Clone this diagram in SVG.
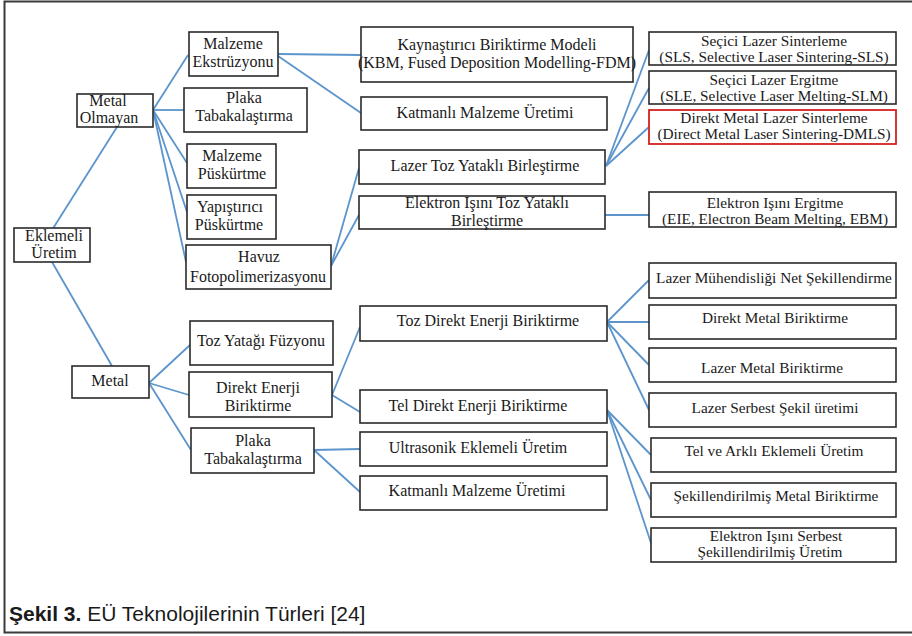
<svg xmlns="http://www.w3.org/2000/svg" width="912" height="636" viewBox="0 0 912 636">
<style>
.b{fill:#fff;stroke:#2a2a2a;stroke-width:1.6}
.r{fill:#fff;stroke:#d42020;stroke-width:1.8}
.t{font-family:'Liberation Serif','DejaVu Serif',serif;font-size:16px;fill:#1a1a1a;text-anchor:middle}
.s{font-size:15.3px}
.c{stroke:#5b95cc;stroke-width:1.8;fill:none}
.cap{font-family:'Liberation Sans',Arial,sans-serif;font-size:21px;fill:#1a1a1a}
</style>
<rect x="0" y="0" width="912" height="636" fill="#fff"/>
<path d="M914 1.5 H4.5 V632.5 H914" fill="none" stroke="#3a3a3a" stroke-width="2"/>
<g id="connectors">
<line class="c" x1="52" y1="230" x2="117" y2="127"/>
<line class="c" x1="52" y1="262" x2="112" y2="366"/>
<line class="c" x1="153" y1="110" x2="188" y2="55"/>
<line class="c" x1="153" y1="110" x2="184" y2="110"/>
<line class="c" x1="153" y1="110" x2="187" y2="163"/>
<line class="c" x1="153" y1="110" x2="187" y2="212"/>
<line class="c" x1="153" y1="110" x2="186" y2="262"/>
<line class="c" x1="278" y1="54" x2="361" y2="55"/>
<line class="c" x1="278" y1="56" x2="361" y2="113"/>
<line class="c" x1="331" y1="266" x2="359" y2="168"/>
<line class="c" x1="331" y1="266" x2="359" y2="215"/>
<line class="c" x1="606" y1="166" x2="649" y2="50"/>
<line class="c" x1="606" y1="166" x2="649" y2="88"/>
<line class="c" x1="606" y1="166" x2="649" y2="127"/>
<line class="c" x1="605" y1="215" x2="649" y2="215"/>
<line class="c" x1="149" y1="383" x2="190" y2="345"/>
<line class="c" x1="149" y1="383" x2="189" y2="395"/>
<line class="c" x1="149" y1="383" x2="191" y2="450"/>
<line class="c" x1="332" y1="395" x2="360" y2="327"/>
<line class="c" x1="332" y1="395" x2="360" y2="412"/>
<line class="c" x1="314" y1="450" x2="360" y2="449"/>
<line class="c" x1="314" y1="450" x2="360" y2="492"/>
<line class="c" x1="607" y1="322" x2="649" y2="280"/>
<line class="c" x1="607" y1="322" x2="649" y2="322"/>
<line class="c" x1="607" y1="322" x2="649" y2="365"/>
<line class="c" x1="607" y1="322" x2="649" y2="410"/>
<line class="c" x1="607" y1="410" x2="651" y2="455"/>
<line class="c" x1="607" y1="410" x2="651" y2="500"/>
<line class="c" x1="607" y1="410" x2="651" y2="543"/>
</g>
<g id="eklemeli"><rect class="b" x="14" y="228" width="76" height="34"/><text class="t" x="54" y="241">Eklemeli</text><text class="t" x="54" y="258">Üretim</text></g>
<g id="metal-olmayan"><rect class="b" x="77" y="94" width="76" height="33"/><text class="t" x="108" y="106">Metal</text><text class="t" x="109" y="123">Olmayan</text></g>
<g id="malzeme-ekstruzyonu"><rect class="b" x="189" y="32" width="89" height="44"/><text class="t" x="233" y="49">Malzeme</text><text class="t" x="233" y="67">Ekstrüzyonu</text></g>
<g id="plaka-1"><rect class="b" x="184" y="88" width="123" height="44"/><text class="t" x="244" y="103">Plaka</text><text class="t" x="244" y="121">Tabakalaştırma</text></g>
<g id="malzeme-puskurtme"><rect class="b" x="187" y="144" width="89" height="44"/><text class="t" x="232" y="161">Malzeme</text><text class="t" x="232" y="179">Püskürtme</text></g>
<g id="yapistirici"><rect class="b" x="187" y="195" width="89" height="44"/><text class="t" x="230" y="212">Yapıştırıcı</text><text class="t" x="229" y="230">Püskürtme</text></g>
<g id="havuz"><rect class="b" x="186" y="245" width="145" height="44"/><text class="t" x="259" y="262">Havuz</text><text class="t" x="258" y="282">Fotopolimerizasyonu</text></g>
<g id="kbm"><rect class="b" x="361" y="27" width="272" height="55"/><text class="t" x="497" y="50">Kaynaştırıcı Biriktirme Modeli</text><text class="t" x="497" y="68">(KBM, Fused Deposition Modelling-FDM)</text></g>
<g id="katmanli-1"><rect class="b" x="361" y="97" width="246" height="33"/><text class="t" x="485" y="118">Katmanlı Malzeme Üretimi</text></g>
<g id="lazer-toz"><rect class="b" x="359" y="150" width="246" height="34"/><text class="t" x="485" y="171">Lazer Toz Yataklı Birleştirme</text></g>
<g id="elektron-toz"><rect class="b" x="359" y="196" width="246" height="33"/><text class="t" x="487" y="208">Elektron Işını Toz Yataklı</text><text class="t" x="487" y="226">Birleştirme</text></g>
<g id="sls"><rect class="b" x="649" y="32" width="247" height="33"/><text class="t s" x="774" y="46">Seçici Lazer Sinterleme</text><text class="t s" x="774" y="62">(SLS, Selective Laser Sintering-SLS)</text></g>
<g id="sle"><rect class="b" x="649" y="71" width="247" height="33"/><text class="t s" x="774" y="85">Seçici Lazer Ergitme</text><text class="t s" x="774" y="101">(SLE, Selective Laser Melting-SLM)</text></g>
<g id="dmls"><rect class="r" x="649" y="110" width="247" height="34"/><text class="t s" x="774" y="123">Direkt Metal Lazer Sinterleme</text><text class="t s" x="774" y="139">(Direct Metal Laser Sintering-DMLS)</text></g>
<g id="ebm"><rect class="b" x="649" y="192" width="247" height="35"/><text class="t s" x="775" y="208">Elektron Işını  Ergitme</text><text class="t s" x="775" y="224">(EIE, Electron Beam Melting, EBM)</text></g>
<g id="metal"><rect class="b" x="72" y="366" width="77" height="32"/><text class="t" x="110" y="386">Metal</text></g>
<g id="toz-yatagi"><rect class="b" x="190" y="321" width="143" height="44"/><text class="t" x="261" y="346">Toz Yatağı Füzyonu</text></g>
<g id="direkt-enerji"><rect class="b" x="189" y="372" width="143" height="45"/><text class="t" x="258" y="393">Direkt Enerji</text><text class="t" x="258" y="411">Biriktirme</text></g>
<g id="plaka-2"><rect class="b" x="191" y="428" width="123" height="45"/><text class="t" x="253" y="446">Plaka</text><text class="t" x="253" y="464">Tabakalaştırma</text></g>
<g id="toz-direkt"><rect class="b" x="360" y="306" width="247" height="35"/><text class="t" x="488" y="326">Toz Direkt Enerji Biriktirme</text></g>
<g id="tel-direkt"><rect class="b" x="360" y="390" width="247" height="33"/><text class="t" x="478" y="411">Tel Direkt Enerji Biriktirme</text></g>
<g id="ultrasonik"><rect class="b" x="360" y="432" width="247" height="34"/><text class="t" x="478" y="453">Ultrasonik Eklemeli Üretim</text></g>
<g id="katmanli-2"><rect class="b" x="360" y="476" width="247" height="34"/><text class="t" x="477" y="496">Katmanlı Malzeme Üretimi</text></g>
<g id="lazer-muhendisligi"><rect class="b" x="649" y="263" width="247" height="35"/><text class="t s" x="774" y="283">Lazer Mühendisliği Net Şekillendirme</text></g>
<g id="direkt-metal"><rect class="b" x="649" y="305" width="247" height="34"/><text class="t s" x="775" y="323">Direkt Metal Biriktirme</text></g>
<g id="lazer-metal"><rect class="b" x="649" y="348" width="247" height="34"/><text class="t s" x="772" y="373">Lazer Metal Biriktirme</text></g>
<g id="lazer-serbest"><rect class="b" x="649" y="393" width="247" height="34"/><text class="t s" x="775" y="413">Lazer Serbest Şekil üretimi</text></g>
<g id="tel-arkli"><rect class="b" x="651" y="438" width="245" height="34"/><text class="t s" x="774" y="456">Tel ve Arklı Eklemeli Üretim</text></g>
<g id="sekillendirilmis"><rect class="b" x="651" y="483" width="245" height="34"/><text class="t s" x="776" y="501">Şekillendirilmiş Metal Biriktirme</text></g>
<g id="elektron-serbest"><rect class="b" x="651" y="528" width="245" height="34"/><text class="t s" x="776" y="541">Elektron Işını  Serbest</text><text class="t s" x="770" y="557">Şekillendirilmiş Üretim</text></g>
<text class="cap" x="9" y="621"><tspan font-weight="bold">Şekil 3.</tspan> EÜ Teknolojilerinin Türleri [24]</text>
</svg>
